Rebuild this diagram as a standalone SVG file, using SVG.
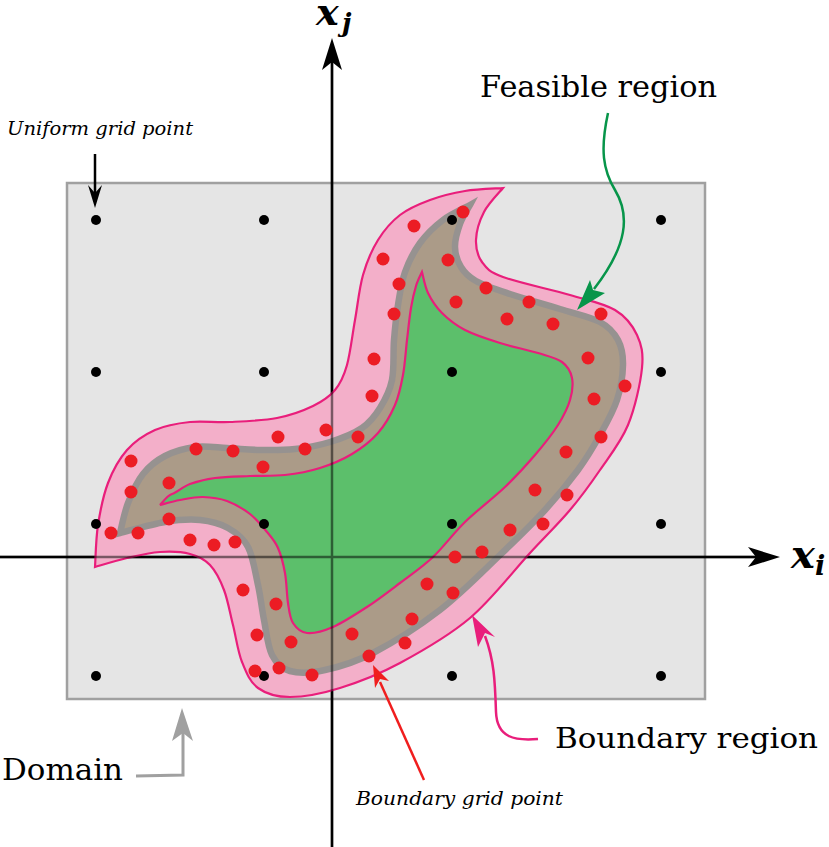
<svg xmlns="http://www.w3.org/2000/svg" width="829" height="847" viewBox="0 0 829 847">
<style>
.lbl{font-family:"DejaVu Serif","Liberation Serif",serif;fill:#000}
.it{font-style:italic}
.math{font-family:"DejaVu Serif","Liberation Serif",serif;font-style:italic;font-weight:bold;fill:#000}
.gdot{fill:#000}
.rdot{fill:#ec1c24}
.axis{stroke:#000;stroke-width:2.5;fill:none}
</style>
<rect id="domain" x="67" y="183" width="638" height="516" fill="#e5e5e5" stroke="#a0a0a0" stroke-width="2.5"/>
<g id="axes-under">
<line class="axis" x1="332" y1="847" x2="332" y2="62"/>
<line class="axis" x1="0" y1="557" x2="757" y2="557"/>
</g>
<g id="boundary-region">
<path fill="#f3afc9" stroke="#e91e7b" stroke-width="2.2" stroke-linejoin="miter" d="M503,188 C499.8,192 488.5,203.3 484,212 S476.3,231.7 476,240 S477.5,255.8 482,262 S488.3,271.5 503,277 S551.3,289.5 570,295 S603.8,303.3 615,310 S632.5,325.3 637,335 S643.5,353 642,368 S635,408 628,425 S609.7,455.8 600,470 S581.7,496.2 570,510 S546.7,535 530,553 S491.7,599.7 470,618 S421.7,651.3 400,663 S358.3,682.3 340,688 S303.7,697 290,697 S266,693.8 258,688 S246.2,672.5 242,662 S236,637 233,625 S227.8,600 224,590 S215.7,571 210,565 S198.3,556.2 190,554 S170.5,551.3 160,552 S137.8,555.5 127,558 S100.3,565.5 95,567 C95.5,560 95.8,539 98,525 S103.2,495.5 108,483 S119.2,458.8 127,450 S144.5,434.7 155,430 S177.5,423.3 190,422 S215.5,422.7 230,422 S263.2,420.7 277,418 S303.3,410.7 313,406 S329.3,396.8 335,390 S343.7,376.7 347,365 S352.3,335 355,320 S359.2,288.3 363,275 S371.8,250 378,240 S391.3,221.7 400,215 S419.2,204 430,200 S452.8,193 465,191 S496.7,188.5 503,188 Z"/>
</g>
<g id="feasible-band">
<path fill="#ab9b88" stroke="#969290" stroke-width="6.5" stroke-linejoin="miter" d="M470,205 C468.3,208.2 462.5,217 460,224 S454.8,239.8 455,247 S457.5,261.3 461,267 S467.8,276.5 476,281 S496,289.3 510,294 S545,304.3 560,309 S590.3,316.8 600,322 S614.2,332.8 618,340 S623.2,355 623,365 S620.8,388.3 617,400 S606.5,423.3 600,435 S587.2,457.5 578,470 S558,495.8 545,510 S517.5,538.3 500,555 S461.2,593.7 440,610 S392.2,643 373,653 S338.8,667 325,670 S298.8,673.5 290,671 S276.3,663.5 272,655 S266.3,631.7 264,620 S260.7,597.2 258,585 S253,556.5 248,547 S236,532.5 228,528 S210.5,521 200,520 S178.3,519.8 165,522 S127.5,531.2 120,533 C121.3,528 124.2,512.8 128,503 S136.8,481.8 143,474 S156.3,460.5 165,456 S184.7,448.3 195,447 S216.2,447.5 227,448 S248.7,449.8 260,450 S283.3,450.3 295,449 S318.8,445.5 330,442 S353.7,433.7 362,428 S375,416 380,408 S389.7,391.3 392,380 S393,352.5 394,340 S396.2,316.3 398,305 S401.3,282.3 405,272 S413.7,251.7 420,243 S434.7,226.3 443,220 S465.5,207.5 470,205 Z"/>
</g>
<g id="feasible-region">
<path fill="#5cbf6b" stroke="#e91e7b" stroke-width="2.2" d="M422,272 C423,275.5 424.7,286.2 428,293 S435.8,306.8 442,313 S455.3,325 465,330 S487.8,339.2 500,343 S527.7,349.8 538,353 S556.3,357.8 562,362 S570.7,371.7 572,378 S572.3,392.2 570,400 S563.8,415.8 558,425 S543.8,444.7 535,455 S516.7,475.8 505,487 S477,510.3 465,522 S443.8,546.8 433,557 S411,574.7 400,583 S378.2,599.7 367,607 S343,622.7 333,627 S313.7,633.7 307,633 S296.2,628 293,623 S289.3,611.3 288,603 S286.7,582.2 285,573 S281,554.8 278,548 S271.7,537.7 267,532 S256.7,519.2 250,514 S234.8,503.8 227,501 S210.8,497.2 203,497 S187.2,498.7 180,500 S163.3,504.2 160,505 C162,503.2 167,495.5 172,494 S182.8,486.7 190,484 S205,479.3 215,478 S238.3,476.5 250,476 S273.3,476.3 285,475 S308.8,471.5 320,468 S342.3,459.8 352,454 S370.8,441.2 378,433 S390.8,414.7 395,405 S401,385.8 403,375 S405.7,351.2 407,340 S409.5,317 411,308 S414.2,292 416,286 S421,274.3 422,272 Z"/>
</g>
<g id="axes-over" opacity="0.5">
<line class="axis" x1="332" y1="847" x2="332" y2="62"/>
<line class="axis" x1="0" y1="557" x2="757" y2="557"/>
</g>
<g id="uniform-grid">
<circle class="gdot" cx="96" cy="220" r="5"/><circle class="gdot" cx="264" cy="220" r="5"/><circle class="gdot" cx="452" cy="220" r="5"/><circle class="gdot" cx="661" cy="220" r="5"/>
<circle class="gdot" cx="96" cy="372" r="5"/><circle class="gdot" cx="264" cy="372" r="5"/><circle class="gdot" cx="452" cy="372" r="5"/><circle class="gdot" cx="661" cy="372" r="5"/>
<circle class="gdot" cx="96" cy="524" r="5"/><circle class="gdot" cx="264" cy="524" r="5"/><circle class="gdot" cx="452" cy="524" r="5"/><circle class="gdot" cx="661" cy="524" r="5"/>
<circle class="gdot" cx="96" cy="676" r="5"/><circle class="gdot" cx="264" cy="676" r="5"/><circle class="gdot" cx="452" cy="676" r="5"/><circle class="gdot" cx="661" cy="676" r="5"/>
</g>
<g id="boundary-grid">
<circle class="rdot" cx="463" cy="212" r="6.5"/><circle class="rdot" cx="414" cy="226" r="6.5"/><circle class="rdot" cx="383" cy="259" r="6.5"/><circle class="rdot" cx="448" cy="260" r="6.5"/>
<circle class="rdot" cx="399" cy="284" r="6.5"/><circle class="rdot" cx="486" cy="288" r="6.5"/><circle class="rdot" cx="394" cy="314" r="6.5"/><circle class="rdot" cx="456" cy="302" r="6.5"/>
<circle class="rdot" cx="529" cy="302" r="6.5"/><circle class="rdot" cx="507" cy="319" r="6.5"/><circle class="rdot" cx="553" cy="324" r="6.5"/><circle class="rdot" cx="601" cy="314" r="6.5"/>
<circle class="rdot" cx="374" cy="359" r="6.5"/><circle class="rdot" cx="588" cy="358" r="6.5"/><circle class="rdot" cx="625" cy="386" r="6.5"/><circle class="rdot" cx="594" cy="399" r="6.5"/>
<circle class="rdot" cx="601" cy="437" r="6.5"/><circle class="rdot" cx="566" cy="452" r="6.5"/><circle class="rdot" cx="372" cy="396" r="6.5"/><circle class="rdot" cx="326" cy="430" r="6.5"/>
<circle class="rdot" cx="358" cy="437" r="6.5"/><circle class="rdot" cx="278" cy="437" r="6.5"/><circle class="rdot" cx="305" cy="449" r="6.5"/><circle class="rdot" cx="263" cy="467" r="6.5"/>
<circle class="rdot" cx="233" cy="451" r="6.5"/><circle class="rdot" cx="196" cy="449" r="6.5"/><circle class="rdot" cx="131" cy="461" r="6.5"/><circle class="rdot" cx="131" cy="492" r="6.5"/>
<circle class="rdot" cx="169" cy="483" r="6.5"/><circle class="rdot" cx="169" cy="519" r="6.5"/><circle class="rdot" cx="111" cy="533" r="6.5"/><circle class="rdot" cx="138" cy="533" r="6.5"/>
<circle class="rdot" cx="190" cy="540" r="6.5"/><circle class="rdot" cx="214" cy="545" r="6.5"/><circle class="rdot" cx="235" cy="542" r="6.5"/><circle class="rdot" cx="243" cy="590" r="6.5"/>
<circle class="rdot" cx="276" cy="604" r="6.5"/><circle class="rdot" cx="257" cy="635" r="6.5"/><circle class="rdot" cx="291" cy="642" r="6.5"/><circle class="rdot" cx="255" cy="671" r="6.5"/>
<circle class="rdot" cx="279" cy="668" r="6.5"/><circle class="rdot" cx="312" cy="675" r="6.5"/><circle class="rdot" cx="352" cy="634" r="6.5"/><circle class="rdot" cx="369" cy="656" r="6.5"/>
<circle class="rdot" cx="405" cy="643" r="6.5"/><circle class="rdot" cx="412" cy="619" r="6.5"/><circle class="rdot" cx="427" cy="584" r="6.5"/><circle class="rdot" cx="453" cy="593" r="6.5"/>
<circle class="rdot" cx="455" cy="557" r="6.5"/><circle class="rdot" cx="482" cy="552" r="6.5"/><circle class="rdot" cx="535" cy="490" r="6.5"/><circle class="rdot" cx="567" cy="495" r="6.5"/>
<circle class="rdot" cx="543" cy="524" r="6.5"/><circle class="rdot" cx="510" cy="530" r="6.5"/>
</g>
<g id="connectors">
<path d="M332,38 L342,70 L332,62 L322,70 Z" fill="#000"/>
<path d="M780,557 L748,567 L756,557 L748,547 Z" fill="#000"/>
<line x1="95" y1="154" x2="95" y2="196" stroke="#000" stroke-width="2.5"/>
<path d="M95,208 L102,185 L95,193 L88,185 Z" fill="#000"/>
<path d="M608,113 C600,150 603,170 615,190 C630,215 628,245 594,289" fill="none" stroke="#07954a" stroke-width="2.5"/>
<path d="M577,310 L590,280 L593,290 L605,293 Z" fill="#07954a"/>
<path d="M538,739 C515,741 497,738 496,712 C495,680 494,660 485,636" fill="none" stroke="#e91e7b" stroke-width="2.5"/>
<path d="M472,615 L495,637 L485,633 L478,647 Z" fill="#e91e7b"/>
<line x1="424" y1="780" x2="380" y2="682" stroke="#f01e1e" stroke-width="2.5"/>
<path d="M373,665 L389,681 L380,679 L375,688 Z" fill="#f01e1e"/>
<path d="M136,776 L183,775 L183,733" fill="none" stroke="#a0a0a0" stroke-width="3"/>
<path d="M182,708 L193,741 L183,733 L172,741 Z" fill="#a0a0a0"/>
</g>
<g id="labels">
<text class="math" x="316" y="25" font-size="38">x</text>
<text class="math" x="342" y="32" font-size="26">j</text>
<text class="math" x="791" y="568" font-size="40">x</text>
<text class="math" x="815" y="575" font-size="27">i</text>
<text class="lbl" x="480" y="97" font-size="29" textLength="237" lengthAdjust="spacingAndGlyphs">Feasible region</text>
<text class="lbl" x="555" y="748" font-size="28" textLength="263" lengthAdjust="spacingAndGlyphs">Boundary region</text>
<text class="lbl" x="2" y="780" font-size="29" textLength="121" lengthAdjust="spacingAndGlyphs">Domain</text>
<text class="lbl it" x="7" y="135" font-size="19" textLength="186" lengthAdjust="spacingAndGlyphs">Uniform grid point</text>
<text class="lbl it" x="356" y="805" font-size="18" textLength="207" lengthAdjust="spacingAndGlyphs">Boundary grid point</text>
</g>
</svg>
